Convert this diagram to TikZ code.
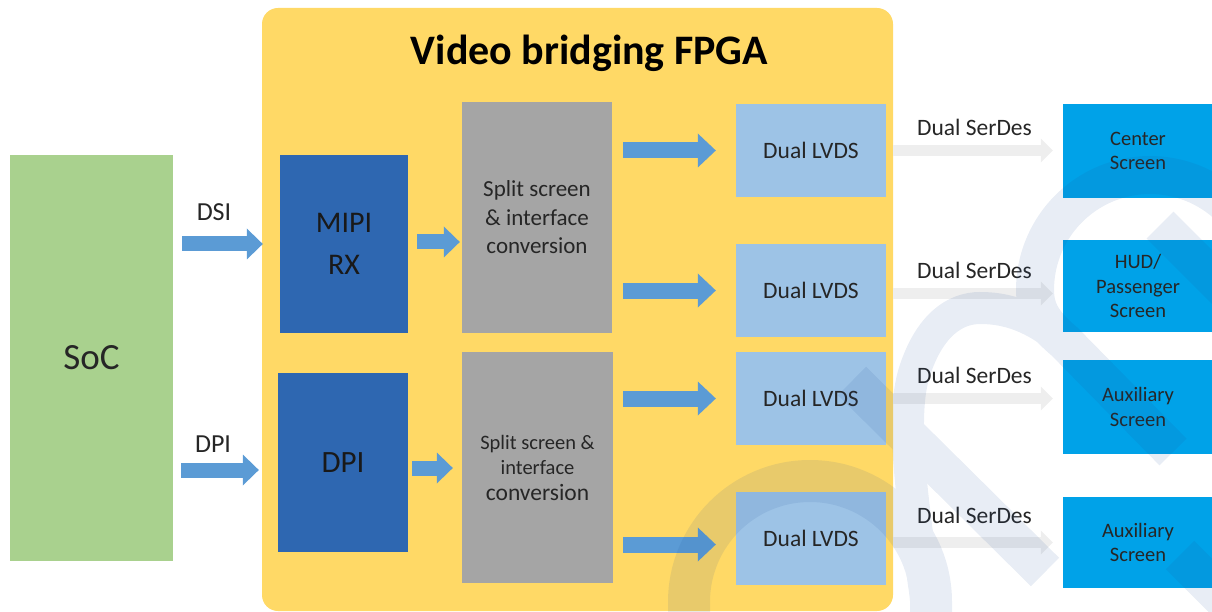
\documentclass[tikz,border=0pt]{standalone}
\usepackage{fontspec}
\setmainfont{Carlito}
\usetikzlibrary{arrows.meta,calc}
\definecolor{socgreen}{HTML}{A9D18E}
\definecolor{fpgayellow}{HTML}{FFD966}
\definecolor{darkblue}{HTML}{2E67B1}
\definecolor{boxgray}{HTML}{A5A5A5}
\definecolor{lvdsblue}{HTML}{9DC3E6}
\definecolor{arrowblue}{HTML}{5B9BD5}
\definecolor{screencyan}{HTML}{00A2E8}
\definecolor{fadegray}{HTML}{EEEEEE}
\definecolor{wmblue}{HTML}{1F4E99}
\definecolor{txt}{HTML}{262626}
\newcommand{\fsz}[2]{\fontsize{#1}{#2}\selectfont}
\begin{document}
\begin{tikzpicture}[x=1pt,y=-1pt,
  blk/.style={rectangle, inner sep=0pt, align=center, text=txt},
  lvdsbox/.style={blk, fill=lvdsblue, minimum width=150pt, minimum height=93pt, font=\fsz{23.5}{28}},
  scrbox/.style={blk, fill=screencyan, minimum width=150pt, minimum height=93pt, font=\fsz{20.5}{24.5}},
  bigarrow/.style={draw=arrowblue, line width=16pt, -{Triangle[length=18pt,width=34pt,line width=0pt]}},
  midarrow/.style={draw=arrowblue, line width=15pt, -{Triangle[length=16pt,width=31pt,line width=0pt]}},
  fadearrow/.style={draw=fadegray, line width=11pt, -{Triangle[length=12pt,width=24pt,line width=0pt]}},
  serdes/.style={midway, font=\fsz{23.5}{28}, text=txt, inner sep=0pt},
  wm/.style={draw=wmblue, line cap=butt}]
\useasboundingbox (0,0) rectangle (1212,612);

% SoC
\node[blk, fill=socgreen, minimum width=163pt, minimum height=406pt, font=\fsz{37}{44}] (soc) at (91.5,358) {SoC};

% FPGA container
\node[fill=fpgayellow, rounded corners=16pt, minimum width=631pt, minimum height=603pt, inner sep=0pt] (fpga) at (577.5,309.5) {};
\node[font=\bfseries\fsz{42}{50}, text=black, inner sep=0pt] (title) at (589.5,53) {Video bridging FPGA};

% receivers
\node[blk, fill=darkblue, minimum width=128pt, minimum height=178pt, font=\fsz{30}{42}, text=black!90] (mipi) at (344,244) {MIPI\\RX};
\node[blk, fill=darkblue, minimum width=130pt, minimum height=179pt, font=\fsz{31}{38}, text=black!90] (dpi) at (343,462.5) {DPI};

% split blocks
\node[blk, fill=boxgray, minimum width=150pt, minimum height=231pt, font=\fsz{23}{28.5}] (split1) at (537,217.5) {Split screen\\\& interface\\conversion};
\node[blk, fill=boxgray, minimum width=151pt, minimum height=231pt, font=\fsz{20.5}{25.5}] (split2) at (537.5,467.5) {Split screen \&\\interface\\\fsz{23.5}{25.5}conversion};

% LVDS
\node[lvdsbox] (lvds1) at (811,150.5) {Dual LVDS};
\node[lvdsbox] (lvds2) at (811,290.5) {Dual LVDS};
\node[lvdsbox] (lvds3) at (811,398.5) {Dual LVDS};
\node[lvdsbox] (lvds4) at (811,538.5) {Dual LVDS};

% screens
\node[scrbox, minimum height=94pt] (scr1) at (1138,151) {Center\\Screen};
\node[scrbox, minimum height=92pt] (scr2) at (1138,286) {HUD/\\Passenger\\Screen};
\node[scrbox, minimum height=94pt] (scr3) at (1138,407) {Auxiliary\\Screen};
\node[scrbox, minimum height=91pt] (scr4) at (1138,542.5) {Auxiliary\\Screen};

% input labels
\node[font=\fsz{26}{30}, text=txt, inner sep=0pt] (lbldsi) at (214,212) {DSI};
\node[font=\fsz{26}{30}, text=txt, inner sep=0pt] (lbldpi) at (213,444) {DPI};

% input arrows
\draw[midarrow, shorten <=9pt, shorten >=17pt] (soc.east |- mipi.west) -- (mipi.west);
\draw[midarrow, shorten <=8pt, shorten >=19pt] ($(soc.east |- dpi.west)+(0,7.5)$) -- ($(dpi.west)+(0,7.5)$);
\draw[midarrow, shorten <=9pt, shorten >=2pt] ($(mipi.east)+(0,-2)$) -- ($(mipi.east -| split1.west)+(0,-2)$);
\draw[midarrow, shorten <=4pt, shorten >=9pt] ($(dpi.east)+(0,5.5)$) -- ($(dpi.east -| split2.west)+(0,5.5)$);

% split -> LVDS arrows
\draw[bigarrow, shorten <=11pt, shorten >=20pt] (split1.east |- lvds1.west) -- (lvds1.west);
\draw[bigarrow, shorten <=11pt, shorten >=20pt] (split1.east |- lvds2.west) -- (lvds2.west);
\draw[bigarrow, shorten <=10pt, shorten >=20pt] (split2.east |- lvds3.west) -- (lvds3.west);
\draw[bigarrow, shorten <=10pt, shorten >=20pt] ($(split2.east |- lvds4.west)+(0,6)$) -- ($(lvds4.west)+(0,6)$);

% LVDS -> screens (faint arrows)
\draw[fadearrow, shorten <=7pt, shorten >=10pt] (lvds1.east) -- (lvds1.east -| scr1.west) node[serdes, yshift=23.5pt] (sd1) {Dual SerDes};
\draw[fadearrow, shorten <=7pt, shorten >=10pt] ($(lvds2.east)+(0,3)$) -- ($(lvds2.east -| scr2.west)+(0,3)$) node[serdes, yshift=23.5pt] (sd2) {Dual SerDes};
\draw[fadearrow, shorten <=7pt, shorten >=10pt] (lvds3.east) -- (lvds3.east -| scr3.west) node[serdes, yshift=23.5pt] (sd3) {Dual SerDes};
\draw[fadearrow, shorten <=7pt, shorten >=10pt] ($(lvds4.east)+(0,4)$) -- ($(lvds4.east -| scr4.west)+(0,4)$) node[serdes, yshift=27pt] (sd4) {Dual SerDes};

% watermark
\begin{scope}[transparency group, opacity=0.1]
\clip (0,0) rectangle (1212,612);
\draw[wm, line width=42pt] (931,640) -- (931,602) arc[start angle=0, end angle=180, radius=121pt] -- (689,640);
\draw[wm, line width=38pt] (1238.1,216.1) arc[start angle=40, end angle=180, radius=115pt]
  .. controls (1035,312) and (1045,325) .. (1065,342) -- (1173,452);
\draw[wm, line width=32pt] (932,640) .. controls (915,520) and (898,420) .. (915,370)
  .. controls (930,325) and (955,308) .. (980,308) .. controls (1015,308) and (1040,322) .. (1068,345);
\draw[wm, line width=40pt] (852,381) -- (1045,572);
\draw[wm, line width=38pt] (1160,225) -- (1250,315);
\draw[wm, line width=40pt] (1180,555) -- (1260,635);
\end{scope}
\end{tikzpicture}
\end{document}
